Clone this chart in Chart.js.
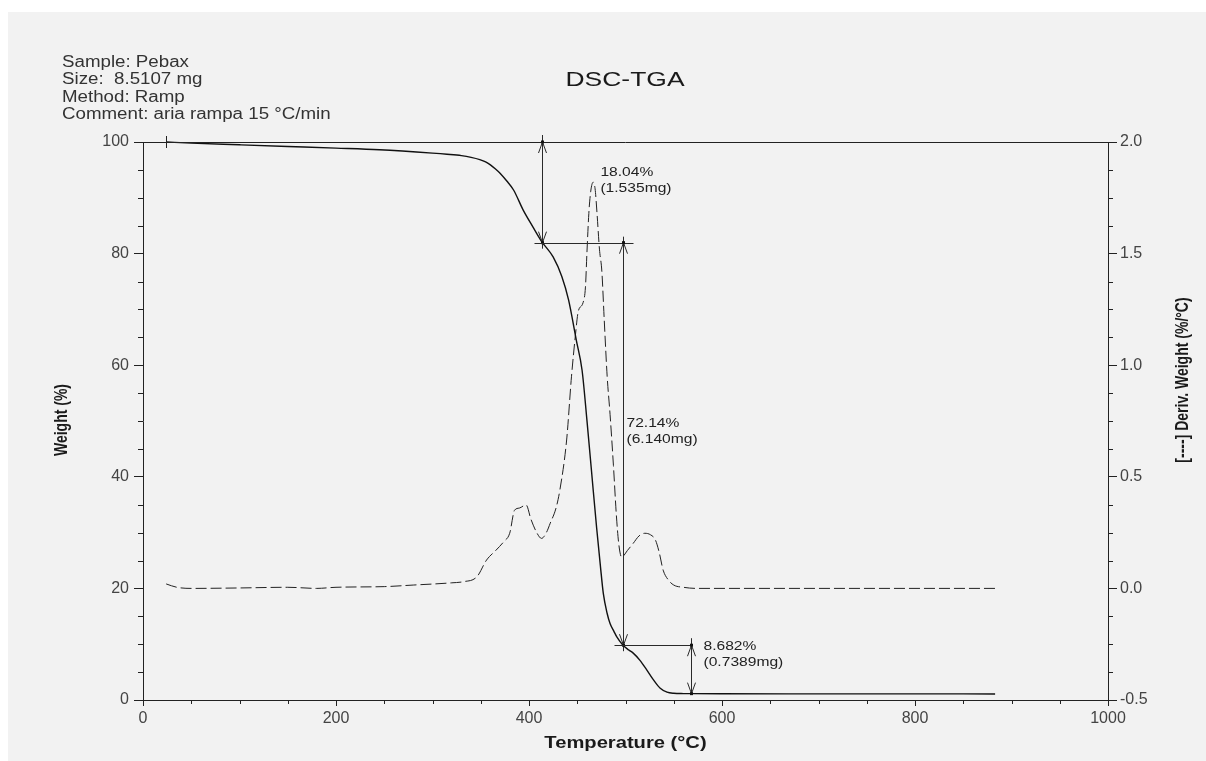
<!DOCTYPE html>
<html>
<head>
<meta charset="utf-8">
<title>DSC-TGA</title>
<script src="https://cdn.jsdelivr.net/npm/chart.js@4.4.1/dist/chart.umd.min.js"></script>
<style>
  html, body { margin: 0; padding: 0; background: #fff; overflow: hidden; }
  canvas { display: block; }
</style>
</head>
<body>
<canvas id="tga" width="1206" height="761"></canvas>
<script>
// Weight (%) vs temperature, solid curve on the left axis
const wtTemp = [24, 50, 100, 150, 200, 245, 300, 315, 330, 340, 349, 355, 360, 365, 370, 377, 384, 394, 404, 413,
  425, 434, 441, 449, 455, 460, 465, 470, 474, 477, 481, 484, 488, 491, 497, 503, 508, 515, 522, 529, 536, 543, 550,
  560, 570, 600, 700, 800, 883];
const wtPct = [100, 99.8, 99.5, 99.2, 98.9, 98.6, 98.0, 97.8, 97.55, 97.25, 96.85, 96.45, 95.9, 95.2, 94.4, 93.0, 91.4,
  87.8, 84.8, 82.2, 79.4, 75.9, 71.7, 64.5, 59.1, 50.2, 40.6, 31, 24, 19.1, 15.5, 13.7, 12.3, 11.3, 9.9, 9.0, 8.4,
  7.1, 5.4, 3.6, 2.1, 1.4, 1.2, 1.15, 1.14, 1.12, 1.1, 1.1, 1.08];

// Derivative weight (%/°C), dashed curve on the right axis
const dTemp = [24, 35, 50, 100, 150, 180, 200, 250, 280, 320, 332, 346, 356, 366, 374, 380, 385, 390, 397, 402, 408,
  413, 418, 422, 428, 432, 439, 444, 448, 451, 456, 458.5, 460, 462, 464, 466.5, 468.5, 470.5, 473, 475.5, 478,
  481, 484, 487.5, 490.5, 493, 496, 502, 508, 514, 520, 526, 531, 535, 539, 544, 550, 560, 574, 600, 700, 800, 883];
const dWeight = [0.02, 0.005, 0.0, 0.002, 0.005, 0.0, 0.005, 0.008, 0.015, 0.025, 0.03, 0.052, 0.127, 0.172, 0.21,
  0.247, 0.35, 0.36, 0.374, 0.31, 0.25, 0.224, 0.25, 0.292, 0.36, 0.441, 0.665, 0.948, 1.13, 1.24, 1.28, 1.35, 1.5,
  1.68, 1.78, 1.82, 1.79, 1.68, 1.52, 1.42, 1.2, 0.95, 0.78, 0.55, 0.33, 0.2, 0.14, 0.17, 0.202, 0.235, 0.247, 0.24,
  0.217, 0.16, 0.082, 0.04, 0.015, 0.005, 0.0, 0.0, 0.0, 0.0, 0.0];

// Weight-loss steps: temperature of each step, weight levels, labels
const stepTemp = [413, 497, 568];
const stepLevel = [100, 81.96, 9.82, 1.138];
const stepPct = ["18.04%", "72.14%", "8.682%"];
const stepMass = ["(1.535mg)", "(6.140mg)", "(0.7389mg)"];

const headerLines = ["Sample: Pebax", "Size:  8.5107 mg", "Method: Ramp", "Comment: aria rampa 15 \u00b0C/min"];

const FONT = "'Liberation Sans', Arial, Helvetica, sans-serif";
const INK = "#1a1a1a";

function pairs(xs, ys) {
  return xs.map((x, i) => ({ x: x, y: ys[i] }));
}

function near(v, step) {
  return Math.abs(v / step - Math.round(v / step)) < 1e-6;
}

// text helper; sx/sy stretch the glyphs in the text's own frame
function drawText(ctx, str, x, y, font, opts) {
  opts = opts || {};
  ctx.save();
  ctx.translate(x, y);
  if (opts.rotate) ctx.rotate(opts.rotate);
  ctx.scale(opts.sx || 1, opts.sy || 1);
  ctx.font = font;
  ctx.fillStyle = opts.color || INK;
  ctx.textAlign = opts.align || "left";
  ctx.textBaseline = opts.baseline || "alphabetic";
  ctx.fillText(str, 0, 0);
  ctx.restore();
}

const panelBg = {
  id: "panelBg",
  beforeDraw(chart) {
    const ctx = chart.ctx;
    ctx.save();
    ctx.fillStyle = "#f2f2f2";
    ctx.fillRect(8, 12, chart.width - 8, chart.height - 12);
    ctx.restore();
  },
};

// short minor ticks, the frame top and the step arrows
const extras = {
  id: "extras",
  afterDraw(chart) {
    const ctx = chart.ctx;
    const { x, y, y2 } = chart.scales;
    const area = chart.chartArea;
    ctx.save();
    ctx.strokeStyle = "#222";
    ctx.lineWidth = 1;

    // minor ticks
    ctx.beginPath();
    x.ticks.forEach((t) => {
      if (near(t.value, 200)) return;
      const px = Math.round(x.getPixelForValue(t.value)) + 0.5;
      ctx.moveTo(px, area.bottom);
      ctx.lineTo(px, area.bottom + 4);
    });
    y.ticks.forEach((t) => {
      if (near(t.value, 20)) return;
      const py = Math.round(y.getPixelForValue(t.value)) + 0.5;
      ctx.moveTo(area.left - 5, py);
      ctx.lineTo(area.left, py);
    });
    y2.ticks.forEach((t) => {
      if (near(t.value, 0.5)) return;
      const py = Math.round(y2.getPixelForValue(t.value)) + 0.5;
      ctx.moveTo(area.right, py);
      ctx.lineTo(area.right + 5, py);
    });
    // top of the frame
    ctx.moveTo(area.left, area.top + 0.5);
    ctx.lineTo(area.right, area.top + 0.5);
    ctx.stroke();

    // start marker of the weight curve
    const sx = Math.round(x.getPixelForValue(wtTemp[0])) + 0.5;
    const sy = y.getPixelForValue(wtPct[0]);
    ctx.beginPath();
    ctx.moveTo(sx, sy - 6);
    ctx.lineTo(sx, sy + 6);
    ctx.stroke();

    // step arrows
    ctx.strokeStyle = "#2a2a2a";
    const over = [[7, 6], [6, 6], [7, 0]];
    const hExt = [[8, 10], [9, 0]];
    const head = (px, py, dir) => {
      ctx.beginPath();
      ctx.moveTo(px - 4, py + dir * 11);
      ctx.lineTo(px, py);
      ctx.lineTo(px + 4, py + dir * 11);
      ctx.stroke();
      ctx.fillStyle = "#111";
      ctx.fillRect(px - 1.5, py - 1.5, 3, 3);
    };
    const xs = stepTemp.map((t) => Math.round(x.getPixelForValue(t)) + 0.5);
    stepTemp.forEach((t, i) => {
      const px = xs[i];
      const top = y.getPixelForValue(stepLevel[i]);
      const bot = y.getPixelForValue(stepLevel[i + 1]);
      ctx.beginPath();
      ctx.moveTo(px, top - over[i][0]);
      ctx.lineTo(px, bot + over[i][1]);
      ctx.stroke();
      head(px, top, 1);
      head(px, bot, -1);
      if (i < hExt.length) {
        const hy = Math.round(bot) + 0.5;
        ctx.beginPath();
        ctx.moveTo(px - hExt[i][0], hy);
        ctx.lineTo(xs[i + 1] + hExt[i][1], hy);
        ctx.stroke();
      }
    });

    // step labels
    const labelAt = [
      [x.getPixelForValue(474), y.getPixelForValue(stepLevel[0]) + 30],
      [xs[1] + 3, (y.getPixelForValue(stepLevel[1]) + y.getPixelForValue(stepLevel[2])) / 2 - 21],
      [xs[2] + 12, y.getPixelForValue(stepLevel[2]) + 1],
    ];
    const lf = "13px " + FONT;
    stepTemp.forEach((t, i) => {
      const [lx, ly] = labelAt[i];
      drawText(ctx, stepPct[i], lx, ly, lf, { sx: 1.2, baseline: "middle", color: "#222" });
      drawText(ctx, stepMass[i], lx, ly + 16, lf, { sx: 1.2, baseline: "middle", color: "#222" });
    });

    // header, title and axis titles
    const hf = "16px " + FONT;
    headerLines.forEach((s, i) => {
      drawText(ctx, s, 62, 67 + i * 17.4, hf, { sx: 1.17, color: "#333" });
    });
    drawText(ctx, "DSC-TGA", 625, 86, "21px " + FONT, { sx: 1.26, align: "center" });
    drawText(ctx, "Temperature (\u00b0C)", (area.left + area.right) / 2, 748, "bold 16px " + FONT,
      { sx: 1.26, align: "center" });
    drawText(ctx, "Weight (%)", 62, 420, "bold 14px " + FONT,
      { rotate: -Math.PI / 2, sy: 1.25, align: "center", baseline: "middle" });
    drawText(ctx, "[----] Deriv. Weight (%/\u00b0C)", 1183, 380, "bold 14px " + FONT,
      { rotate: -Math.PI / 2, sy: 1.25, align: "center", baseline: "middle" });
    ctx.restore();
  },
};

const tickFont = { family: FONT, size: 16 };
const tickColor = "#444";

new Chart(document.getElementById("tga"), {
  type: "scatter",
  data: {
    datasets: [
      {
        label: "Weight",
        data: pairs(wtTemp, wtPct),
        yAxisID: "y",
        showLine: true,
        borderColor: "#111",
        borderWidth: 1.4,
        pointRadius: 0,
        cubicInterpolationMode: "monotone",
        clip: 6,
      },
      {
        label: "Deriv. Weight",
        data: pairs(dTemp, dWeight),
        yAxisID: "y2",
        showLine: true,
        borderColor: "#222",
        borderWidth: 1,
        borderDash: [11, 4],
        pointRadius: 0,
        cubicInterpolationMode: "monotone",
        clip: 6,
      },
    ],
  },
  options: {
    responsive: false,
    animation: false,
    devicePixelRatio: 1,
    layout: { padding: { top: 142, left: 0, right: 0, bottom: 0 } },
    plugins: { legend: { display: false }, tooltip: { enabled: false }, title: { display: false } },
    scales: {
      x: {
        type: "linear",
        min: 0,
        max: 1000,
        afterFit: (s) => { s.height = 61; },
        border: { display: true, color: "#222", width: 1 },
        grid: {
          drawOnChartArea: false,
          tickLength: 6,
          tickColor: (c) => (c.tick && near(c.tick.value, 200) ? "#222" : "rgba(0,0,0,0)"),
        },
        ticks: {
          stepSize: 50,
          autoSkip: false,
          maxRotation: 0,
          padding: 3,
          font: tickFont,
          color: tickColor,
          callback: (v) => (near(v, 200) ? String(v) : ""),
        },
      },
      y: {
        position: "left",
        min: 0,
        max: 100,
        afterFit: (s) => { s.width = 143; },
        border: { display: true, color: "#222", width: 1 },
        grid: {
          drawOnChartArea: false,
          tickLength: 9,
          tickColor: (c) => (c.tick && near(c.tick.value, 20) ? "#222" : "rgba(0,0,0,0)"),
        },
        ticks: {
          stepSize: 5,
          autoSkip: false,
          padding: 5,
          font: tickFont,
          color: tickColor,
          callback: (v) => (near(v, 20) ? String(v) : ""),
        },
      },
      y2: {
        position: "right",
        min: -0.5,
        max: 2.0,
        afterFit: (s) => { s.width = 98; },
        border: { display: true, color: "#222", width: 1 },
        grid: {
          drawOnChartArea: false,
          tickLength: 9,
          tickColor: (c) => (c.tick && near(c.tick.value, 0.5) ? "#222" : "rgba(0,0,0,0)"),
        },
        ticks: {
          stepSize: 0.125,
          autoSkip: false,
          padding: 3,
          font: tickFont,
          color: tickColor,
          callback: (v) => (near(v, 0.5) ? v.toFixed(1) : ""),
        },
      },
    },
  },
  plugins: [panelBg, extras],
});
</script>
</body>
</html>
